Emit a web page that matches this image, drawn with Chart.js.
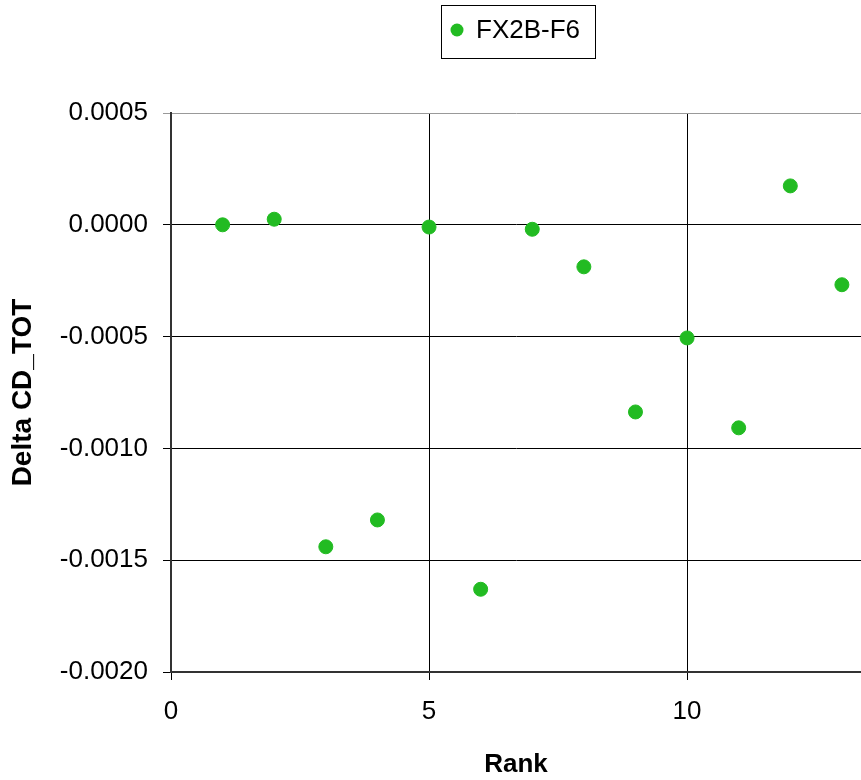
<!DOCTYPE html>
<html>
<head>
<meta charset="utf-8">
<script src="https://cdn.jsdelivr.net/npm/chart.js@4"></script>
<style>
html,body{margin:0;padding:0;background:#fff;}
#wrap{width:861px;height:780px;position:relative;}
</style>
</head>
<body>
<div id="wrap"><canvas id="c" width="861" height="780"></canvas></div>
<script>
const seriesName = "FX2B-F6";
const ranks = [1,2,3,4,5,6,7,8,9,10,11,12,13];
const deltaCD = [0.0000, 0.000025, -0.00144, -0.00132, -0.00001, -0.00163, -0.00002, -0.000188, -0.000837, -0.000506, -0.000908, 0.000174, -0.000268];
const xTicks = [0,5,10];
const yTicks = [-0.002,-0.0015,-0.001,-0.0005,0,0.0005];
const xTitle = "Rank";
const yTitle = "Delta CD_TOT";

const green = "rgb(34,187,34)";
const FONT = "'Liberation Sans', Arial, sans-serif";

const legendPlugin = {
  id: 'boxLegend',
  afterDraw(chart){
    const ctx = chart.ctx;
    ctx.save();
    const x0=441.5, y0=5.5, w=154, h=53;
    ctx.fillStyle='#fff';
    ctx.fillRect(x0,y0,w,h);
    ctx.strokeStyle='#000';
    ctx.lineWidth=1;
    ctx.strokeRect(x0,y0,w,h);
    ctx.fillStyle=green;
    ctx.beginPath();
    ctx.arc(457,30,6.5,0,Math.PI*2);
    ctx.fill();
    ctx.fillStyle='#000';
    ctx.font="26px "+FONT;
    ctx.textBaseline='middle';
    ctx.fillText(chart.data.datasets[0].label,476,31);
    ctx.restore();
  }
};

new Chart(document.getElementById('c'),{
  type:'scatter',
  data:{datasets:[{
    label:seriesName,
    data:ranks.map((r,i)=>({x:r,y:deltaCD[i]})),
    backgroundColor:green,
    borderColor:green,
    pointRadius:7,
    pointHoverRadius:7,
    clip:false
  }]},
  options:{
    responsive:false,
    animation:false,
    events:[],
    layout:{autoPadding:false,padding:{top:113,right:0,left:0,bottom:0}},
    plugins:{legend:{display:false},tooltip:{enabled:false}},
    scales:{
      x:{
        type:'linear',
        min:0,max:13.37,
        afterBuildTicks(s){ s.ticks = xTicks.map(v=>({value:v})); },
        afterFit(s){ s.height = 780-672; s.paddingRight = 0; s.paddingLeft = 0; },
        grid:{color:'#000',lineWidth:1,tickLength:8,drawTicks:true},
        border:{color:'#333',width:2},
        ticks:{font:{size:26,family:FONT},color:'#000',padding:16,maxRotation:0,
          callback:(v)=>String(v)},
        title:{display:true,text:xTitle,font:{size:26,weight:'bold',family:FONT},color:'#000',padding:{top:20,bottom:0}}
      },
      y:{
        type:'linear',
        min:-0.002,max:0.0005,
        afterBuildTicks(s){ s.ticks = yTicks.map(v=>({value:v})); },
        afterFit(s){ s.width = 171; },
        grid:{color:(c)=> (c.tick && c.tick.value===0.0005) ? '#999' : '#000',lineWidth:1,tickLength:8,drawTicks:true},
        border:{color:'#333',width:2},
        ticks:{font:{size:26,family:FONT},color:'#000',padding:15,
          callback:(v)=>v.toFixed(4)},
        title:{display:true,text:yTitle,font:{size:28,weight:'bold',family:FONT},color:'#000',padding:{top:6,bottom:10}}
      }
    }
  },
  plugins:[legendPlugin]
});
</script>
</body>
</html>
